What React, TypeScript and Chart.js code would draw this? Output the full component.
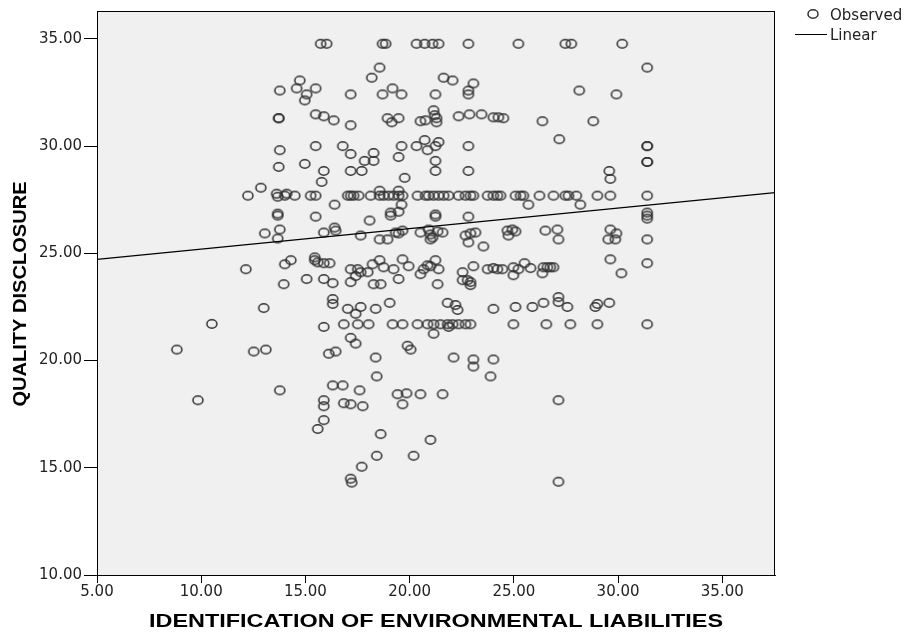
import React, { useEffect, useRef } from 'react';
import { Chart, registerables } from 'chart.js';

Chart.register(...registerables);

// ---------- axes ----------
const xTicks = [5, 10, 15, 20, 25, 30, 35];
const yTicks = [10, 15, 20, 25, 30, 35];
const xMin = 5;
const xMax = 37.53;
const yMin = 10;
const yMax = 36.3;

const xTitle = 'IDENTIFICATION OF ENVIRONMENTAL LIABILITIES';
const yTitle = 'QUALITY DISCLOSURE';
const legendLabels = ['Observed', 'Linear'];

// ---------- fitted linear line ----------
const fitX = [5, 37.53];
const fitY = [24.72, 27.83];

// ---------- observed values ----------
const groupAX = [15.73, 16.02, 14.73, 13.77, 14.58, 15.06, 15.49, 14.97, 13.72, 13.72, 15.49, 15.88, 16.36, 13.77, 15.49, 13.72, 14.97, 15.88];
const groupAY = [34.77, 34.77, 33.06, 32.59, 32.69, 32.41, 32.69, 32.13, 31.30, 31.30, 31.48, 31.39, 31.20, 29.81, 30.00, 29.03, 29.17, 28.84];

const groupBX = [18.70, 18.85, 20.33, 20.72, 21.10, 21.39, 22.82, 18.56, 18.18, 21.63, 22.06, 23.06, 22.82, 22.82, 17.17, 18.70, 19.18, 19.61, 21.24];
const groupBY = [34.77, 34.77, 34.77, 34.77, 34.77, 34.77, 34.77, 33.66, 33.19, 33.19, 33.06, 32.92, 32.59, 32.41, 32.41, 32.41, 32.69, 32.41, 32.41];

const groupCX = [17.17, 18.94, 19.14, 19.47, 20.52, 20.76, 21.15, 21.20, 21.29, 21.29, 22.35, 22.87, 23.45, 24.02, 24.26];
const groupCY = [30.97, 31.30, 31.11, 31.30, 31.16, 31.20, 31.67, 31.44, 31.30, 31.11, 31.39, 31.48, 31.48, 31.34, 31.34];

const groupDX = [16.79, 17.17, 18.27, 17.84, 18.27, 19.47, 19.61, 20.33, 20.72, 20.86, 21.24, 21.39, 22.82, 21.24, 17.17, 17.70, 21.24, 22.82];
const groupDY = [30.00, 29.63, 29.68, 29.31, 29.31, 29.49, 30.00, 30.00, 30.28, 29.81, 30.00, 30.19, 30.00, 29.31, 28.84, 28.84, 28.84, 28.84];

const groupEX = [25.22, 27.47, 27.76, 30.20, 31.40, 28.14, 29.92, 24.50, 26.37, 28.81, 27.18, 31.40, 31.40, 31.40, 31.40, 29.58, 29.63];
const groupEY = [34.77, 34.77, 34.77, 34.77, 33.66, 32.59, 32.41, 31.30, 31.16, 31.16, 30.32, 30.00, 30.00, 29.26, 29.26, 28.84, 28.47];

const groupFX = [15.78, 12.86, 12.24, 13.62, 13.67, 14.01, 14.10, 14.49, 15.25, 15.49, 13.67, 13.67, 15.49, 13.05, 13.77, 13.67, 15.88];
const groupFY = [28.33, 28.06, 27.69, 27.78, 27.64, 27.69, 27.78, 27.69, 27.69, 27.69, 26.85, 26.76, 26.71, 25.93, 26.11, 25.69, 25.97];

const groupGX = [12.14, 14.01, 14.30, 15.45, 15.45, 15.59, 15.88, 16.16, 15.06, 13.96, 15.88, 16.31, 13.00, 10.51, 19.76];
const groupGY = [24.26, 24.49, 24.68, 24.81, 24.68, 24.58, 24.54, 24.54, 23.80, 23.56, 23.80, 23.61, 22.45, 21.71, 28.52];

const groupHX = [17.03, 17.17, 17.31, 17.55, 18.13, 18.56, 18.75, 18.99, 19.23, 19.47, 19.66, 20.38, 20.76, 20.91, 21.15, 21.39, 21.63, 21.87, 22.35, 22.68, 22.92, 23.06, 23.74, 24.02, 24.21];
const groupHY = [27.69, 27.69, 27.69, 27.69, 27.69, 27.69, 27.69, 27.69, 27.69, 27.69, 27.69, 27.69, 27.69, 27.69, 27.69, 27.69, 27.69, 27.69, 27.69, 27.69, 27.69, 27.69, 27.69, 27.69, 27.69];

const groupIX = [18.56, 19.47, 16.40, 19.61, 19.09, 19.09, 19.47, 21.24, 21.24, 18.08, 22.82, 16.40, 16.45, 17.65, 18.56, 18.94];
const groupIY = [27.92, 27.92, 27.27, 27.27, 26.90, 26.76, 26.94, 26.81, 26.71, 26.53, 26.71, 26.20, 26.06, 25.83, 25.65, 25.65];

const groupJX = [19.33, 19.47, 19.66, 20.52, 20.91, 21.00, 21.10, 21.34, 21.58, 21.00, 22.68, 22.92, 23.16, 22.82, 23.54];
const groupJY = [25.97, 25.93, 26.06, 25.97, 26.11, 25.88, 25.74, 26.02, 25.97, 25.65, 25.83, 25.93, 25.97, 25.51, 25.32];

const groupKX = [17.17, 17.51, 17.65, 17.41, 17.99, 18.22, 18.56, 18.75, 19.23, 19.66, 19.95, 20.52, 20.67, 20.86, 21.00, 21.24, 21.39];
const groupKY = [24.26, 24.26, 24.12, 23.94, 24.12, 24.49, 24.68, 24.35, 24.26, 24.72, 24.40, 24.03, 24.26, 24.44, 24.40, 24.68, 24.26];

const groupLX = [22.54, 23.06, 23.74, 24.02, 24.21, 22.54, 22.78, 22.92, 22.92, 17.17, 18.27, 18.61, 19.47, 21.34];
const groupLY = [24.12, 24.40, 24.26, 24.31, 24.26, 23.75, 23.75, 23.66, 23.52, 23.66, 23.56, 23.56, 23.80, 23.56];

const groupMX = [16.31, 16.31, 17.03, 17.41, 17.65, 18.37, 19.04, 21.82, 22.20, 22.30, 24.02];
const groupMY = [22.87, 22.64, 22.41, 22.18, 22.50, 22.41, 22.69, 22.69, 22.59, 22.36, 22.41];

const groupNX = [24.36, 25.08, 25.32, 25.46, 26.23, 26.90, 27.47, 27.62, 28.00, 29.01, 29.63, 31.40];
const groupNY = [27.69, 27.69, 27.69, 27.69, 27.69, 27.69, 27.69, 27.69, 27.69, 27.69, 27.69, 27.69];

const groupOX = [25.70, 28.19, 31.40, 31.40, 31.40, 24.69, 24.93, 25.08, 24.74, 26.51, 27.09, 27.14, 29.63, 29.92, 29.53, 29.87, 31.40];
const groupOY = [27.27, 27.27, 26.90, 26.76, 26.62, 26.06, 26.11, 26.02, 25.83, 26.06, 26.11, 25.65, 26.11, 25.93, 25.65, 25.65, 25.65];

const groupPX = [29.63, 30.16, 31.40, 24.45, 24.98, 25.22, 25.51, 25.80, 24.98, 26.42, 26.61, 26.75, 26.90, 26.37];
const groupPY = [24.72, 24.07, 24.54, 24.26, 24.35, 24.26, 24.54, 24.31, 23.98, 24.35, 24.35, 24.35, 24.35, 24.07];

const groupQX = [25.08, 25.89, 26.42, 27.14, 27.14, 27.57, 28.91, 29.01, 29.58];
const groupQY = [22.50, 22.50, 22.69, 22.96, 22.73, 22.50, 22.50, 22.64, 22.69];

const groupRX = [15.88, 8.83, 12.52, 13.10, 16.12, 16.45, 13.77, 16.31, 9.84, 15.88, 15.88, 15.88, 15.59];
const groupRY = [21.57, 20.51, 20.42, 20.51, 20.32, 20.42, 18.61, 18.84, 18.15, 18.15, 17.87, 17.22, 16.81];

const groupSX = [16.84, 17.51, 18.03, 19.18, 19.66, 20.38, 20.86, 21.15, 21.48, 21.82, 22.06, 22.35, 22.68, 22.92, 24.98, 26.56, 27.71, 29.01, 31.40];
const groupSY = [21.69, 21.69, 21.69, 21.69, 21.69, 21.69, 21.69, 21.69, 21.69, 21.69, 21.69, 21.69, 21.69, 21.69, 21.69, 21.69, 21.69, 21.69, 21.69];

const groupTX = [17.17, 17.41, 21.15, 21.87, 19.90, 20.05, 18.37, 22.11, 23.06, 23.06, 24.02, 23.88, 18.42, 16.79, 17.60];
const groupTY = [21.06, 20.79, 21.25, 21.57, 20.69, 20.51, 20.14, 20.14, 20.05, 19.72, 20.05, 19.26, 19.26, 18.84, 18.61];

const groupUX = [19.42, 19.85, 20.52, 21.58, 19.66, 16.84, 17.17, 17.75, 18.61, 21.00, 18.42, 20.19, 17.70, 17.17, 17.22, 27.14, 27.14];
const groupUY = [18.43, 18.47, 18.43, 18.43, 17.96, 18.01, 17.96, 17.87, 16.57, 16.30, 15.56, 15.56, 15.05, 14.49, 14.31, 18.15, 14.35];

const observedX = [
  ...groupAX, ...groupBX, ...groupCX, ...groupDX, ...groupEX, ...groupFX, ...groupGX,
  ...groupHX, ...groupIX, ...groupJX, ...groupKX, ...groupLX, ...groupMX, ...groupNX,
  ...groupOX, ...groupPX, ...groupQX, ...groupRX, ...groupSX, ...groupTX, ...groupUX,
];
const observedY = [
  ...groupAY, ...groupBY, ...groupCY, ...groupDY, ...groupEY, ...groupFY, ...groupGY,
  ...groupHY, ...groupIY, ...groupJY, ...groupKY, ...groupLY, ...groupMY, ...groupNY,
  ...groupOY, ...groupPY, ...groupQY, ...groupRY, ...groupSY, ...groupTY, ...groupUY,
];

function makeMarker(): HTMLCanvasElement {
  const c = document.createElement('canvas');
  c.width = 14;
  c.height = 12;
  const g = c.getContext('2d')!;
  g.strokeStyle = '#303030';
  g.lineWidth = 1.5;
  g.beginPath();
  g.ellipse(7, 6, 5, 4.2, 0, 0, Math.PI * 2);
  g.stroke();
  return c;
}

function drawFittedText(ctx: CanvasRenderingContext2D, text: string, cx: number, cy: number, width: number, rot: number) {
  ctx.save();
  ctx.translate(cx, cy);
  ctx.rotate(rot);
  ctx.font = 'bold 19px "Liberation Sans", Arial, sans-serif';
  const w = ctx.measureText(text).width;
  ctx.scale(width / w, 1);
  ctx.fillStyle = '#000';
  ctx.textAlign = 'center';
  ctx.textBaseline = 'middle';
  ctx.fillText(text, 0, 0);
  ctx.restore();
}

export default function App() {
  const ref = useRef<HTMLCanvasElement>(null);

  useEffect(() => {
    if (!ref.current) return;
    const marker = makeMarker();

    const framePlugin = {
      id: 'frame',
      beforeDraw(chart: any) {
        const { ctx, chartArea: a } = chart;
        ctx.save();
        ctx.fillStyle = '#ffffff';
        ctx.fillRect(0, 0, chart.width, chart.height);
        ctx.fillStyle = '#f0f0f0';
        ctx.fillRect(a.left, a.top, a.right - a.left, a.bottom - a.top);
        ctx.restore();
      },
      afterDraw(chart: any) {
        const { ctx, chartArea: a } = chart;
        ctx.save();
        ctx.strokeStyle = '#000';
        ctx.lineWidth = 1;
        ctx.strokeRect(a.left + 0.5, a.top + 0.5, a.right - a.left - 1, a.bottom - a.top);
        // legend
        const lx = a.right + 38;
        ctx.drawImage(marker, lx - marker.width / 2, 14 - marker.height / 2);
        ctx.beginPath();
        ctx.moveTo(a.right + 20, 34.5);
        ctx.lineTo(a.right + 52, 34.5);
        ctx.stroke();
        ctx.fillStyle = '#222';
        ctx.font = '15px "DejaVu Sans"';
        ctx.textBaseline = 'middle';
        ctx.textAlign = 'left';
        ctx.fillText(legendLabels[0], a.right + 55, 16);
        ctx.fillText(legendLabels[1], a.right + 55, 36);
        ctx.restore();
        // axis titles
        drawFittedText(ctx, xTitle, (a.left + a.right) / 2, 622, 574, 0);
        drawFittedText(ctx, yTitle, 21, (a.top + a.bottom) / 2 + 1, 225, -Math.PI / 2);
      },
    };

    const chart = new Chart(ref.current, {
      type: 'scatter',
      data: {
        datasets: [
          {
            type: 'line',
            label: legendLabels[1],
            data: fitX.map((x, i) => ({ x, y: fitY[i] })),
            borderColor: '#000',
            borderWidth: 1.3,
            pointRadius: 0,
            fill: false,
          } as any,
          {
            type: 'scatter',
            label: legendLabels[0],
            data: observedX.map((x, i) => ({ x, y: observedY[i] })),
            pointStyle: marker as any,
            pointRadius: 5,
          },
        ],
      },
      plugins: [framePlugin],
      options: {
        responsive: false,
        animation: false,
        events: [],
        devicePixelRatio: 1,
        layout: { padding: { top: 7, right: 138, left: 0, bottom: 0 } },
        plugins: { legend: { display: false }, tooltip: { enabled: false } },
        scales: {
          x: {
            type: 'linear',
            min: xMin,
            max: xMax,
            afterBuildTicks: (s: any) => {
              s.ticks = xTicks.map((v) => ({ value: v }));
            },
            afterFit: (s: any) => {
              s.height = 59;
            },
            ticks: {
              callback: (v: any) => Number(v).toFixed(2),
              font: { family: 'DejaVu Sans', size: 15 },
              color: '#222',
              padding: 0,
              maxRotation: 0,
              autoSkip: false,
            },
            grid: { display: true, drawOnChartArea: false, drawTicks: true, tickLength: 8, color: '#000' },
            border: { display: true, color: '#000' },
            title: { display: false },
          },
          y: {
            type: 'linear',
            min: yMin,
            max: yMax,
            afterBuildTicks: (s: any) => {
              s.ticks = yTicks.map((v) => ({ value: v }));
            },
            afterFit: (s: any) => {
              s.width = 97;
            },
            ticks: {
              callback: (v: any) => Number(v).toFixed(2),
              font: { family: 'DejaVu Sans', size: 15 },
              color: '#222',
              padding: 2,
              autoSkip: false,
            },
            grid: { display: true, drawOnChartArea: false, drawTicks: true, tickLength: 13, color: '#000' },
            border: { display: true, color: '#000' },
            title: { display: false },
          },
        },
      } as any,
    });
    return () => chart.destroy();
  }, []);

  return (
    <div style={{ position: 'fixed', left: 0, top: 0, width: 913, height: 634, background: '#fff' }}>
      <canvas ref={ref} width={913} height={634} style={{ display: 'block' }} />
    </div>
  );
}
